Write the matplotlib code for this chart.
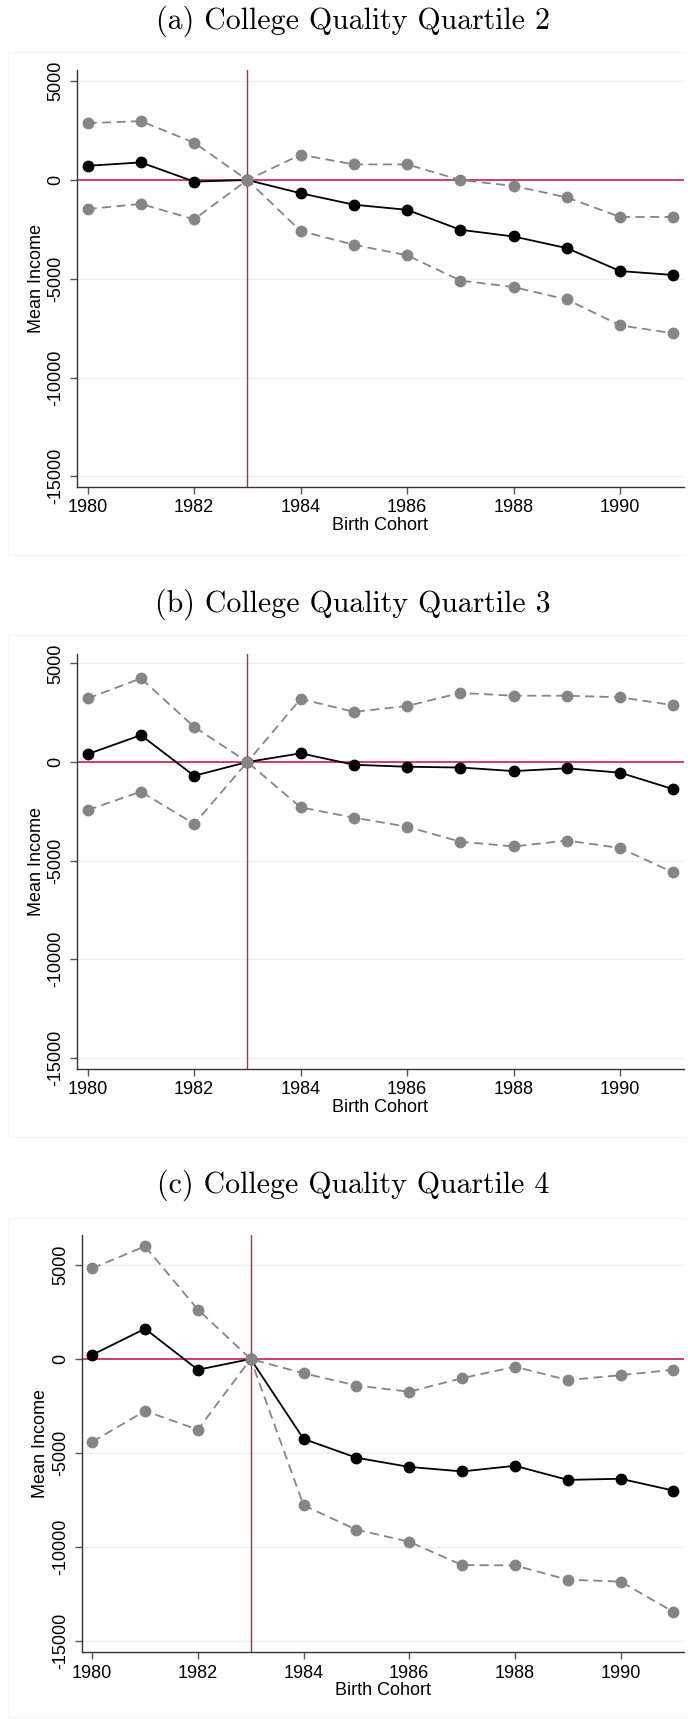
import numpy as np
import matplotlib
matplotlib.use("Agg")
import matplotlib.pyplot as plt
from matplotlib.patches import Rectangle

# birth cohorts
years = np.arange(1980, 1992)

# (a) quartile 2: point estimate and 95% bounds
coef_q2 = [720, 890, -80, 0, -670, -1250, -1510, -2520, -2860, -3450, -4610, -4810]
hi_q2 = [2880, 2980, 1890, 0, 1280, 790, 790, 0, -300, -880, -1870, -1870]
lo_q2 = [-1470, -1210, -1990, 0, -2580, -3280, -3810, -5090, -5420, -6050, -7360, -7760]

# (b) quartile 3
coef_q3 = [400, 1360, -700, 0, 440, -140, -240, -280, -460, -320, -540, -1380]
hi_q3 = [3220, 4240, 1780, 0, 3200, 2540, 2840, 3500, 3360, 3360, 3280, 2880]
lo_q3 = [-2440, -1500, -3140, 0, -2300, -2820, -3280, -4040, -4280, -3980, -4360, -5600]

# (c) quartile 4
coef_q4 = [220, 1610, -570, 0, -4250, -5250, -5740, -5980, -5680, -6430, -6370, -7000]
hi_q4 = [4820, 6000, 2630, 0, -760, -1410, -1740, -1020, -410, -1120, -860, -570]
lo_q4 = [-4410, -2760, -3760, 0, -7780, -9080, -9720, -10960, -10980, -11740, -11840, -13450]

titles = ["(a) College Quality Quartile 2",
          "(b) College Quality Quartile 3",
          "(c) College Quality Quartile 4"]
yticks = [-15000, -10000, -5000, 0, 5000]
xticks = [1980, 1982, 1984, 1986, 1988, 1990]

W, H = 688, 1719
fig = plt.figure(figsize=(W / 100, H / 100), dpi=100)

red = "#cc1f48"
grey = "#858585"
sans = "Liberation Sans"
dash = (0, (5, 3))

# pixel layout of each panel: title y, frame top/bottom, axes left/top/bottom, ylim
panels = [
    (coef_q2, hi_q2, lo_q2, 21, 52, 555, 77, 70, 487, (-15544, 5570)),
    (coef_q3, hi_q3, lo_q3, 604, 635, 1137, 77, 654, 1069, (-15560, 5474)),
    (coef_q4, hi_q4, lo_q4, 1185, 1218, 1717, 81.6, 1235, 1652, (-15585, 6596)),
]
right = 684

for i, (coef, hi, lo, ty, ft, fb, left, top, bottom, ylim) in enumerate(panels):
    fig.text(353 / W, 1 - ty / H, titles[i], ha="center", va="center",
             family="cmr10", size=21.5)
    fig.patches.append(Rectangle((8 / W, 1 - fb / H), (W - 8) / W, (fb - ft) / H,
                                 transform=fig.transFigure, fill=False,
                                 edgecolor="#f6f6f6", lw=1))

    ax = fig.add_axes([left / W, 1 - bottom / H, (right - left) / W, (bottom - top) / H])
    ax.set_xlim(1979.8, 1991.2)
    ax.set_ylim(*ylim)
    for y in yticks:
        ax.axhline(y, color="#e9eff3", lw=1, zorder=0)
    ax.axhline(0, color=red, lw=1.2, zorder=1)
    ax.axvline(1983, color=red, lw=1.0, zorder=1)

    ax.plot(years, coef, color="black", lw=1.3, marker="o", ms=7.5, zorder=3)
    ax.plot(years, hi, color=grey, lw=1.3, ls=dash, marker="o", ms=7.5, zorder=4)
    ax.plot(years, lo, color=grey, lw=1.3, ls=dash, marker="o", ms=7.5, zorder=4)

    ax.spines["top"].set_visible(False)
    ax.spines["right"].set_visible(False)
    for s in ["left", "bottom"]:
        ax.spines[s].set_color("#333333")
        ax.spines[s].set_linewidth(1.0)

    ax.set_xticks(xticks)
    ax.set_yticks(yticks)
    ax.set_yticklabels([str(v) for v in yticks], rotation=90, va="center")
    ax.tick_params(axis="both", length=5, width=1, color="#555555", labelsize=13)
    ax.tick_params(axis="x", pad=4)
    ax.tick_params(axis="y", pad=4)
    for lab in ax.get_xticklabels() + ax.get_yticklabels():
        lab.set_fontfamily(sans)

    ax.set_xlabel("Birth Cohort", fontfamily=sans, fontsize=13, labelpad=0)
    ax.set_ylabel("Mean Income", fontfamily=sans, fontsize=13, labelpad=2)

fig.savefig("out.png", dpi=100, facecolor="white")
